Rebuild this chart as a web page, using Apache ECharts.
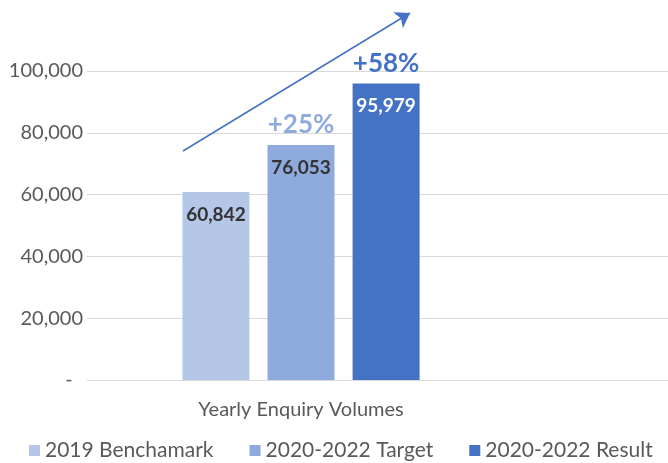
<!DOCTYPE html>
<html>
<head>
<meta charset="utf-8">
<script src="https://cdn.jsdelivr.net/npm/echarts@6/dist/echarts.min.js"></script>
<style>
  html, body {margin: 0; padding: 0; background: #fff;}
  #chart {width: 668px; height: 463px;}
</style>
</head>
<body>
<div id="chart"></div>
<script>
const categories = ['Yearly Enquiry Volumes']
const seriesNames = ['2019 Benchamark', '2020-2022 Target', '2020-2022 Result']
const values = [60842, 76053, 95979]
const growth = ['', '+25%', '+58%']
const colors = ['#b4c7e7', '#8faadc', '#4472c4']
const labelColors = ['#333333', '#333333', '#ffffff']
const yTicks = [0, 20000, 40000, 60000, 80000, 100000]

const font = 'Lato, "Open Sans", sans-serif'
const chart = echarts.init(document.getElementById('chart'))

const series = seriesNames.map((name, i) => ({
  name,
  type: 'bar',
  xAxisIndex: 1,
  yAxisIndex: 1,
  barWidth: 67,
  barGap: '27%',
  itemStyle: {color: colors[i]},
  data: [values[i]],
  label: {
    show: true,
    position: 'insideTop',
    distance: 13,
    color: labelColors[i],
    fontFamily: font,
    fontWeight: 'bold',
    fontSize: 19,
    formatter: p => p.value.toLocaleString('en-US'),
  },
  markPoint: growth[i] ? {
    symbol: 'rect',
    symbolSize: 0,
    data: [{type: 'max'}],
    label: {
      show: true,
      position: 'top',
      distance: 7,
      formatter: growth[i],
      color: colors[i],
      fontFamily: font,
      fontWeight: 'bold',
      fontSize: 26,
    },
  } : undefined,
}))

// trend arrow
series[0].markLine = {
  silent: true,
  symbol: ['none', 'arrow'],
  symbolSize: 14,
  lineStyle: {color: '#4472c4', width: 1.5, type: 'solid'},
  label: {show: false},
  data: [[{x: 183, y: 151}, {x: 410, y: 13}]],
}

chart.setOption({
  animation: false,
  textStyle: {fontFamily: font},
  grid: [
    {left: 87, right: 0, top: 71, bottom: 83},
    {left: 87, width: 428, top: 71, bottom: 83},
  ],
  legend: {
    data: seriesNames,
    left: 24,
    top: 435,
    itemWidth: 11,
    itemHeight: 11,
    itemGap: 36,
    icon: 'rect',
    textStyle: {color: '#595959', fontSize: 21, fontFamily: font},
  },
  xAxis: [
    {
      gridIndex: 0,
      type: 'category',
      data: [''],
      axisLine: {show: true, lineStyle: {color: '#d9d9d9'}},
      axisTick: {show: false},
      axisLabel: {show: false},
    },
    {
      gridIndex: 1,
      type: 'category',
      data: categories,
      axisLine: {show: false},
      axisTick: {show: false},
      axisLabel: {color: '#595959', fontSize: 20, margin: 20, fontFamily: font},
    },
  ],
  yAxis: [
    {
      gridIndex: 0,
      type: 'value',
      min: yTicks[0],
      max: yTicks[yTicks.length - 1],
      interval: yTicks[1] - yTicks[0],
      axisLine: {show: false},
      axisTick: {show: false},
      splitLine: {lineStyle: {color: '#d9d9d9'}},
      axisLabel: {
        color: '#595959',
        fontSize: 20,
        margin: 4,
        fontFamily: font,
        formatter: v => v === 0 ? '-  ' : v.toLocaleString('en-US'),
      },
    },
    {
      gridIndex: 1,
      type: 'value',
      min: yTicks[0],
      max: yTicks[yTicks.length - 1],
      show: false,
    },
  ],
  series,
})
</script>
</body>
</html>
